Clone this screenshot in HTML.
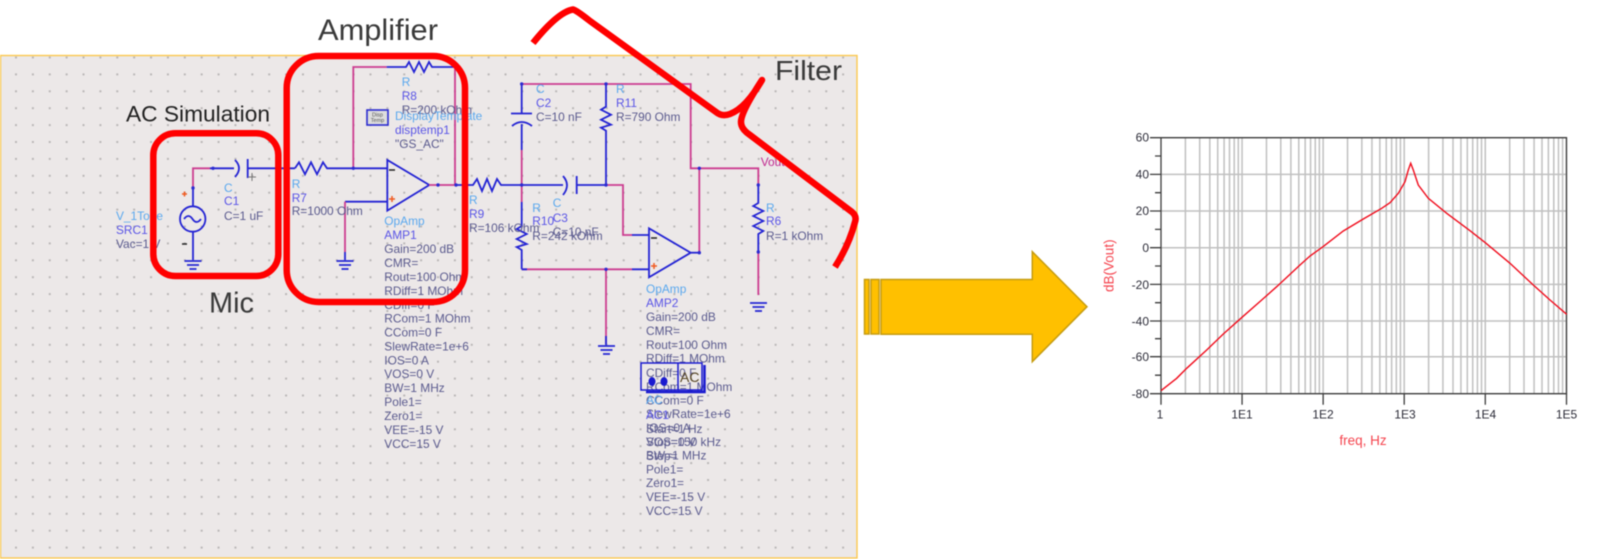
<!DOCTYPE html>
<html><head><meta charset="utf-8"><style>
html,body{margin:0;padding:0;background:#fff;width:1600px;height:559px;overflow:hidden}
svg{display:block;filter:blur(.5px)}
text{font-family:"Liberation Sans",sans-serif}
.s text{font-size:11.9px;fill:#5a5a8e}
.t{fill:#5aa8ee !important}.n{fill:#5a55e6 !important}
.b{fill:none;stroke:#2424d4;stroke-width:1.8}
.p{fill:none;stroke:#cc3c90;stroke-width:1.8}
.r{fill:none;stroke:#f00;stroke-width:6.5;stroke-linejoin:round;stroke-linecap:butt}
.a text{font-size:12px;fill:#2c2c38}
</style></head><body>
<svg width="1600" height="559" viewBox="0 0 1600 559" xmlns="http://www.w3.org/2000/svg">
<defs>
<pattern id="d" x="15" y="56.5" width="16.88" height="16.9" patternUnits="userSpaceOnUse"><rect width="2" height="2" fill="#bab7b7"/></pattern>
<g id="gnd" class="b"><path d="M-8.5 0H8.5M-6 4H6M-3.5 8H3.5" stroke-width="1.8"/></g>
<g id="dec" fill="none" stroke="#c0c0c0" stroke-width="1.5"><path d="M24.4 0V256M38.7 0V256M48.8 0V256M56.7 0V256M63.1 0V256M68.5 0V256M73.2 0V256M77.3 0V256M81.07 0V256"/></g>
</defs>
<rect x=".5" y="55.5" width="856.5" height="502.5" fill="#ece8e8" stroke="#fbc84f" stroke-width="1.4"/>
<rect x="1" y="56" width="855" height="501" fill="url(#d)"/>

<!-- wiring: source and C1 -->
<path class="p" d="M193 188V168.3H210"/>
<path class="b" d="M193 188V206M210 168.3H234M193 232V260"/>
<circle class="b" cx="192.7" cy="219" r="12.7" stroke-width="1.8"/>
<path class="b" d="M184 219q4.500-6 8.500 0t8.500 0" />
<path class="b" d="M235 160q8 8 0 17" stroke-width="1.8"/>
<path class="b" d="M247.700 159V178M247.700 168.300H295" stroke-width="1.8"/>
<path d="M248 177h8M252 173v8" stroke="#777" stroke-width="1" fill="none"/>
<use href="#gnd" x="193" y="261"/>
<!-- R7 -->
<path class="b" d="M295 168.300l4-6 6 12 6-12 6 12 6-12 4 6H387"/>
<!-- AMP1 -->
<path class="b" stroke-width="1.8" d="M387.300 160V210.700L429.300 185Z" />
<path class="p" d="M429 185H456"/>
<path class="p" d="M353.300 168.300V67H386.700"/>
<path class="b" d="M386.700 67H406l3-5 5 10 5-10 5 10 5-10 3 5H455"/>
<path class="p" d="M455 67V185"/>
<path class="b" d="M387 201.700H345"/><path class="p" d="M345 201.700V252"/><path class="b" d="M345 252V260"/>
<use href="#gnd" x="345" y="261"/>
<path d="M389 170h6" stroke="#222" stroke-width="1.500"/>
<path d="M389 199h6M392 196v6" stroke="#f05a20" stroke-width="1.500"/>
<path d="M182 194h5M184.500 191.500v5" stroke="#f05a20" stroke-width="1.500"/>
<path d="M182 244h5" stroke="#222" stroke-width="1.500"/>
<!-- filter -->
<path class="b" d="M456 185H473l4-6 5 12 5-12 5 12 5-12 4 6H563"/>
<path class="b" d="M563 176q8 9 0 19" stroke-width="1.800"/>
<path class="b" d="M576.700 176V194M576.700 185H606.500" stroke-width="1.800"/>
<path class="p" d="M606.500 185H623V235H632"/><path class="b" d="M632 235H649"/>
<path class="p" d="M521.700 84H690.700V168.300H758.300V185"/>
<path class="b" d="M521.700 84V113M511 113.500H532M512 126q9.500-8 20 0M521.700 124V150"/>
<path class="p" d="M521.700 150V202"/>
<path class="b" d="M521.700 202V226l-5 3 10 5-10 5 10 5-10 3 5 3V269.300"/>
<path class="p" d="M521.700 269.300H632"/><path class="b" d="M632 269.300H649M521.700 269.300H527"/>
<path class="b" d="M606 84V106.700l-5 3 10 5-10 5 10 5-10 3 5 3V185"/>
<path class="p" d="M606 269.300V344"/><path class="b" d="M606 336V345"/>
<use href="#gnd" x="606.500" y="346"/>
<path class="b" stroke-width="1.800" d="M649 228.300V277.300L690.700 252.700Z"/>
<path class="b" d="M690.700 252.700H699"/><path class="p" d="M699.300 252.700V168.300"/>
<path d="M651 238h6" stroke="#222" stroke-width="1.500"/>
<path d="M651 266h6M654 263v6" stroke="#f05a20" stroke-width="1.500"/>
<path class="b" d="M758.300 185V203l-5 3 10 5-10 5 10 5-10 5 10 5-5 3V252"/>
<path class="p" d="M758.300 252V295"/>
<use href="#gnd" x="758.500" y="303"/>
<g fill="#2b2bd0"><circle cx="353.300" cy="168.300" r="1.700"/><circle cx="521.700" cy="185" r="1.700"/><circle cx="606" cy="185" r="1.700"/><circle cx="606" cy="269.300" r="1.700"/><circle cx="521.700" cy="84" r="1.700"/><circle cx="606" cy="84" r="1.700"/><circle cx="699.300" cy="168.300" r="1.700"/><circle cx="699.300" cy="252.700" r="1.700"/><circle cx="758.300" cy="185" r="1.700"/><circle cx="758.300" cy="252" r="1.700"/><circle cx="193" cy="188" r="1.700"/><circle cx="213" cy="168.300" r="1.700"/><circle cx="456" cy="185" r="1.700"/><circle cx="438" cy="185" r="1.700"/></g>

<!-- display template icon -->
<rect x="367" y="110" width="21" height="15" fill="#ddd" stroke="#2b2bd0" stroke-width="1.600"/>
<text x="377.500" y="116.500" text-anchor="middle" style="font-size:5.500px" fill="#555">Disp</text>
<text x="377.500" y="122" text-anchor="middle" style="font-size:5.500px" fill="#555">Temp</text>

<!-- component text -->
<g class="s">
<text class="t" x="116" y="220">V_1Tone</text><text class="n" x="116" y="234">SRC1</text><text x="116" y="248">Vac=1 V</text>
<text class="t" x="224" y="192">C</text><text class="n" x="224" y="205">C1</text><text x="224" y="220">C=1 uF</text>
<text class="t" x="291.700" y="188">R</text><text class="n" x="291.700" y="202">R7</text><text x="291.700" y="215">R=1000 Ohm</text>
<text class="t" x="401.700" y="86">R</text><text class="n" x="401.700" y="100">R8</text><text x="401.700" y="114">R=200 kOhm</text>
<text class="t" x="395" y="120">DisplayTemplate</text><text class="n" x="395" y="134">disptemp1</text><text x="395" y="148">"GS_AC"</text>
<text class="t" x="384.300" y="225">OpAmp</text><text class="n" x="384.300" y="239">AMP1</text>
<text x="384.300" y="253">Gain=200 dB</text><text x="384.300" y="267">CMR=</text><text x="384.300" y="281">Rout=100 Ohm</text><text x="384.300" y="295">RDiff=1 MOhm</text><text x="384.300" y="309">CDiff=0 F</text><text x="384.300" y="322.500">RCom=1 MOhm</text><text x="384.300" y="336.500">CCom=0 F</text><text x="384.300" y="350.500">SlewRate=1e+6</text><text x="384.300" y="364.500">IOS=0 A</text><text x="384.300" y="378">VOS=0 V</text><text x="384.300" y="392">BW=1 MHz</text><text x="384.300" y="406">Pole1=</text><text x="384.300" y="420">Zero1=</text><text x="384.300" y="434">VEE=-15 V</text><text x="384.300" y="448">VCC=15 V</text>
<text class="t" x="469" y="204">R</text><text class="n" x="469" y="218">R9</text><text x="469" y="232">R=106 kOhm</text>
<text class="t" x="532.300" y="212">R</text><text class="n" x="532.300" y="225">R10</text><text x="532.300" y="240">R=242 kOhm</text>
<text class="t" x="552.700" y="207">C</text><text class="n" x="552.700" y="222">C3</text><text x="552.700" y="236">C=10 nF</text>
<text class="t" x="536" y="93">C</text><text class="n" x="536" y="107">C2</text><text x="536" y="121">C=10 nF</text>
<text class="t" x="616" y="93">R</text><text class="n" x="616" y="107">R11</text><text x="616" y="121">R=790 Ohm</text>
<text x="760.700" y="166" style="fill:#c0288f">Vout</text>
<text class="t" x="766" y="212">R</text><text class="n" x="766" y="225">R6</text><text x="766" y="240">R=1 kOhm</text>
<text class="t" x="646" y="293">OpAmp</text><text class="n" x="646" y="307">AMP2</text>
<text x="646" y="321">Gain=200 dB</text><text x="646" y="335">CMR=</text><text x="646" y="349">Rout=100 Ohm</text><text x="646" y="362.700">RDiff=1 MOhm</text><text x="646" y="377">CDiff=0 F</text><text x="646" y="391">RCom=1 MOhm</text><text x="646" y="404.500">CCom=0 F</text><text x="646" y="418">SlewRate=1e+6</text><text x="646" y="432">IOS=0 A</text><text x="646" y="446">VOS=0 V</text><text x="646" y="459.500">BW=1 MHz</text><text x="646" y="473.500">Pole1=</text><text x="646" y="487">Zero1=</text><text x="646" y="501">VEE=-15 V</text><text x="646" y="515">VCC=15 V</text>
<text class="t" x="646" y="404">AC</text><text class="n" x="646" y="419">AC1</text><text x="646" y="433">Start=1 Hz</text><text x="646" y="446">Stop=150 kHz</text><text x="646" y="460">Step=</text>
</g>
<!-- AC block -->
<path fill="none" stroke="#1a1ad0" stroke-width="1.500" d="M641 363H702V390H641ZM678 363V390"/>
<path fill="none" stroke="#1a1ad0" stroke-width="2.500" d="M704.500 365V392H646"/>
<ellipse cx="652" cy="381.500" rx="3.500" ry="4.500" fill="#1a1ad0"/><ellipse cx="664" cy="381.500" rx="3.500" ry="4.500" fill="#1a1ad0"/>
<text x="680" y="382" style="font-size:14px" fill="#554422">AC</text>

<!-- red outlines -->
<rect class="r" x="153.300" y="133.300" width="125" height="142.700" rx="22"/>
<rect class="r" x="286.700" y="56" width="178.300" height="246" rx="32"/>
<path class="r" stroke-linecap="butt" d="M533 43Q558 12 573 9.500Q576 10 590 21L716 112Q722 117 730 114Q746 108 762 80Q741 112 741 122Q741 129 750 135L852 212Q857 216 855 222Q849 245 835 267"/>

<!-- section labels -->
<g fill="#3a3a3a">
<text x="318" y="40" style="font-size:30px" textLength="120" lengthAdjust="spacingAndGlyphs">Amplifier</text>
<text x="126" y="121.500" style="font-size:22px" fill="#222" textLength="144" lengthAdjust="spacingAndGlyphs">AC Simulation</text>
<text x="209" y="312.500" style="font-size:29px" textLength="45" lengthAdjust="spacingAndGlyphs">Mic</text>
<text x="775" y="80" style="font-size:28px" textLength="67" lengthAdjust="spacingAndGlyphs">Filter</text>
</g>

<!-- arrow -->
<g fill="#ffc000" stroke="#c69c10" stroke-width="1.500">
<rect x="864.500" y="279.500" width="4.500" height="54.500"/>
<rect x="871" y="279.500" width="8" height="54.500"/>
<path d="M881 279.500H1032.300V251.700L1087 306.700L1032.300 361.700V334.300H881Z"/>
</g>

<!-- chart -->
<g transform="translate(1161,137.700)">
<use href="#dec" x="0"/><use href="#dec" x="81.070"/><use href="#dec" x="162.140"/><use href="#dec" x="243.210"/><use href="#dec" x="324.280"/>
<path fill="none" stroke="#c0c0c0" stroke-width="1.500" d="M0 36.700H405.500M0 73.300H405.500M0 110H405.500M0 146.700H405.500M0 183.300H405.500M0 219H405.500"/>
<path fill="none" stroke="#3c3c3c" stroke-width="1.300" d="M0 0H405.500V256H0Z"/>
<path fill="none" stroke="#3c3c3c" stroke-width="1.300" d="M-11 0H0M-11 36.700H0M-11 73.300H0M-11 110H0M-11 146.700H0M-11 183.300H0M-11 219H0M-11 256H0M-6 18.300H0M-6 55H0M-6 91.700H0M-6 128.300H0M-6 165H0M-6 201H0M-6 237.500H0M0 256V267M81.070 256V267M162.140 256V267M243.210 256V267M324.280 256V267M405.500 256V267"/>
</g>
<g class="a" text-anchor="end">
<text x="1149" y="141.500">60</text><text x="1149" y="178.500">40</text><text x="1149" y="215">20</text><text x="1149" y="252">0</text><text x="1149" y="289">-20</text><text x="1149" y="325.500">-40</text><text x="1149" y="361">-60</text><text x="1149" y="398">-80</text>
</g>
<g class="a" text-anchor="middle">
<text x="1160" y="418.500">1</text><text x="1242" y="418.500">1E1</text><text x="1323" y="418.500">1E2</text><text x="1405" y="418.500">1E3</text><text x="1485.500" y="418.500">1E4</text><text x="1566.500" y="418.500">1E5</text>
</g>
<polyline fill="none" stroke="#f00c1c" stroke-width="1.400" points="1161,390.700 1176.700,378.300 1186.700,368.300 1206.700,350 1223.300,334 1242,317.300 1261.700,300 1276.700,286.700 1300,265 1310,256 1323,246.700 1343.300,231 1363.300,219 1381.700,208.300 1390,202.700 1398.300,193.300 1405,181.700 1408.300,170 1410.700,163.300 1413.300,170 1418.300,185 1428.300,198.300 1446.700,213.300 1470,230.700 1485.300,242.700 1510,263.300 1533.300,285 1550,300 1566.700,314.300"/>
<text x="1363" y="445" text-anchor="middle" style="font-size:13.500px" fill="#f5454f">freq, Hz</text>
<text transform="translate(1113.500,265.700) rotate(-90)" text-anchor="middle" style="font-size:13.500px" fill="#f5454f">dB(Vout)</text>
</svg>
</body></html>
